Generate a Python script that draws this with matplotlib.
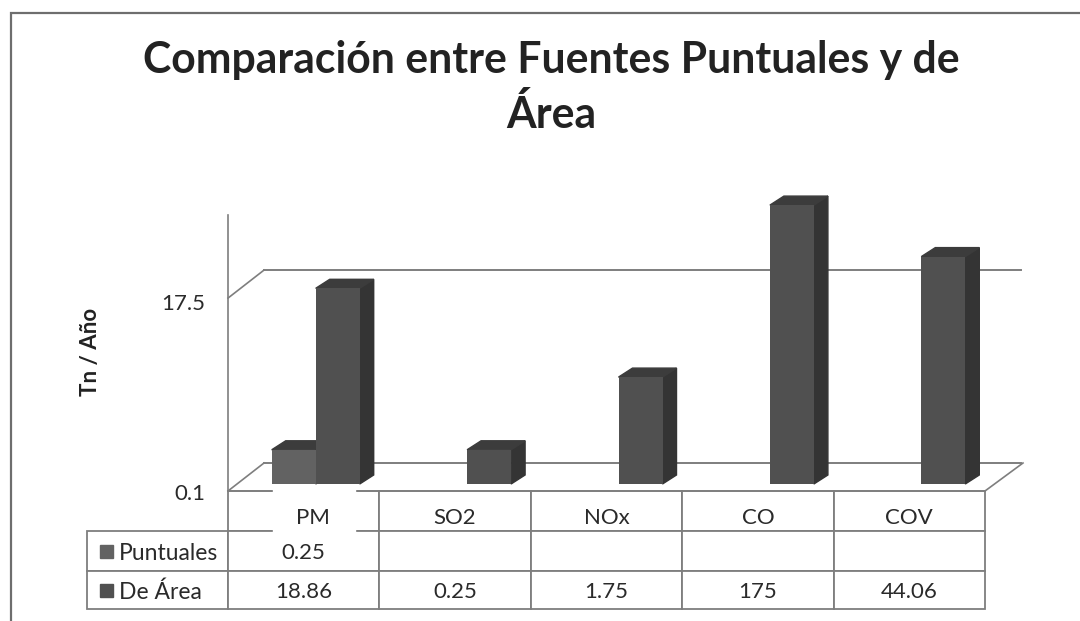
"""
Comparacion entre Fuentes Puntuales y de Area, fake 3D bars on a log axis
"""
import matplotlib
matplotlib.use("Agg")
import matplotlib.pyplot as plt
from matplotlib.patches import Polygon, Rectangle
from matplotlib.transforms import Affine2D

categories = ["PM", "SO2", "NOx", "CO", "COV"]
series_names = ["Puntuales", "De Área"]
puntuales = [0.25, None, None, None, None]
de_area = [18.86, 0.25, 1.75, 175, 44.06]
puntuales_txt = ["0.25", "", "", "", ""]
de_area_txt = ["18.86", "0.25", "1.75", "175", "44.06"]
yticks = [0.1, 17.5]
yticklabels = ["0.1", "17.5"]

W, H = 1080, 621
plt.rcParams["font.family"] = ["Lato", "DejaVu Sans"]

C_PUNT = "#626262"
C_AREA = "#505050"
C_SIDE = "#343434"
C_TOP = "#3c3c3c"
C_LINE = "#7e7e7e"
C_TEXT = "#2a2a2a"


def fig_box(x0, y0, x1, y1):
    # pixel box, y from the top, to figure fractions
    return [x0/W, 1-y1/H, (x1-x0)/W, (y1-y0)/H]


fig = plt.figure(figsize=(W/100, H/100), dpi=100)
ax = fig.add_axes(fig_box(228, 215, 985, 491))
ax.set_yscale("log")
ax.set_xlim(0, 5)
ax.set_ylim(0.1, 10**(276/86 - 1))
ax.set_xticks([])
ax.set_yticks(yticks)
ax.set_yticklabels(yticklabels, fontsize=16, color=C_TEXT)
ax.minorticks_off()
ax.tick_params(axis="y", length=0, pad=16.5)
for lab, dy in zip(ax.get_yticklabels(), [1, 4]):
    lab.set_transform(lab.get_transform() + Affine2D().translate(0, -dy))
for side in ["top", "right"]:
    ax.spines[side].set_visible(False)
for side in ["left", "bottom"]:
    ax.spines[side].set_color(C_LINE)
    ax.spines[side].set_linewidth(1.2)

# back wall and floor
back = ax.transData + Affine2D().translate(36, 28)
for v in yticks:
    ax.plot([0, 5], [v, v], color=C_LINE, lw=1.4, transform=back, clip_on=False, zorder=1)
    p0 = ax.transData.transform((0, v))
    ax.plot([p0[0], p0[0]+36], [p0[1], p0[1]+28], color=C_LINE, lw=1.2,
            transform=None, clip_on=False, zorder=1)
p1 = ax.transData.transform((5, 0.1))
ax.plot([p1[0], p1[0]+38], [p1[1], p1[1]+28], color=C_LINE, lw=1.2,
        transform=None, clip_on=False, zorder=1)

# bars sit a little behind the front edge of the floor
front = ax.transData + Affine2D().translate(12, 7)
bar_w = 44/151.4
depth_x, depth_y = 14, 9


def bar3d(x, v, color):
    ax.bar(x, v-0.1, width=bar_w, bottom=0.1, align="edge", color=color, transform=front,
           clip_on=False, zorder=3)
    (xl, yb) = front.transform((x, 0.1))
    (xr, yt) = front.transform((x+bar_w, v))
    side = [(xr, yb), (xr+depth_x, yb+depth_y), (xr+depth_x, yt+depth_y), (xr, yt)]
    top = [(xl, yt), (xl+depth_x, yt+depth_y), (xr+depth_x, yt+depth_y), (xr, yt)]
    ax.add_patch(Polygon(side, closed=True, color=C_SIDE, transform=None, clip_on=False, zorder=2.5))
    ax.add_patch(Polygon(top, closed=True, color=C_TOP, transform=None, clip_on=False, zorder=2.5))


for i, v in enumerate(puntuales):
    if v is not None:
        bar3d(i+0.5-bar_w, v, C_PUNT)
for i, v in enumerate(de_area):
    bar3d(i+0.5, v, C_AREA)

# data table under the axis, first column holds the series names
tb_h = 609-491
tb = ax.table(
    cellText=[[""] + categories,
              [series_names[0]] + puntuales_txt,
              [series_names[1]] + de_area_txt],
    cellLoc="center",
    bbox=[-141/757, -tb_h/276, 898/757, tb_h/276],
)
tb.auto_set_font_size(False)
row_h = {0: 40, 1: 40, 2: 38}
for (r, c), cell in tb.get_celld().items():
    cell.set_edgecolor(C_LINE)
    cell.set_linewidth(1.3)
    cell.set_height(row_h[r]/276)
    cell.set_width((141 if c == 0 else 151.4)/757)
    txt = cell.get_text()
    txt.set_fontsize(16.5 if c == 0 else 16)
    txt.set_color(C_TEXT)
    # header labels sit low in their cells
    txt.set_transform(Affine2D().translate(0, -7 if r == 0 else -2))
    if c == 0:
        cell.set_text_props(ha="left")
        cell._loc = "left"
        cell.PAD = 32/141
tb[(0, 0)].set_visible(False)

# the first header cell has no rules behind the label
fig.add_artist(Rectangle((273/W, 1-535/H), 82/W, 48/H, color="white", zorder=4))
fig.text(313/W, 1-518/H, categories[0], fontsize=16, color=C_TEXT, ha="center", va="center", zorder=5)
tb[(0, 1)].get_text().set_text("")

# legend keys inside the row labels
for y, color in [(551, C_PUNT), (590, C_AREA)]:
    fig.add_artist(Rectangle((100/W, 1-(y+7)/H), 13/W, 13/H, color=color, zorder=5))

fig.text(551/W, 1-60/H, "Comparación entre Fuentes Puntuales y de", fontsize=30.8, fontweight="bold",
         color="#222222", ha="center", va="center")
fig.text(551/W, 1-115/H, "Área", fontsize=30.8, fontweight="bold",
         color="#222222", ha="center", va="center")
fig.text(91/W, 1-352/H, "Tn / Año", fontsize=16, fontweight="bold", color="#222222",
         rotation=90, ha="center", va="center")

# outer frame
fig.add_artist(Rectangle((11/W, -0.02), 1.1, 1-13/H+0.02, fill=False, edgecolor="#6e6e6e", linewidth=1.6))

fig.savefig("out.png", dpi=100)
